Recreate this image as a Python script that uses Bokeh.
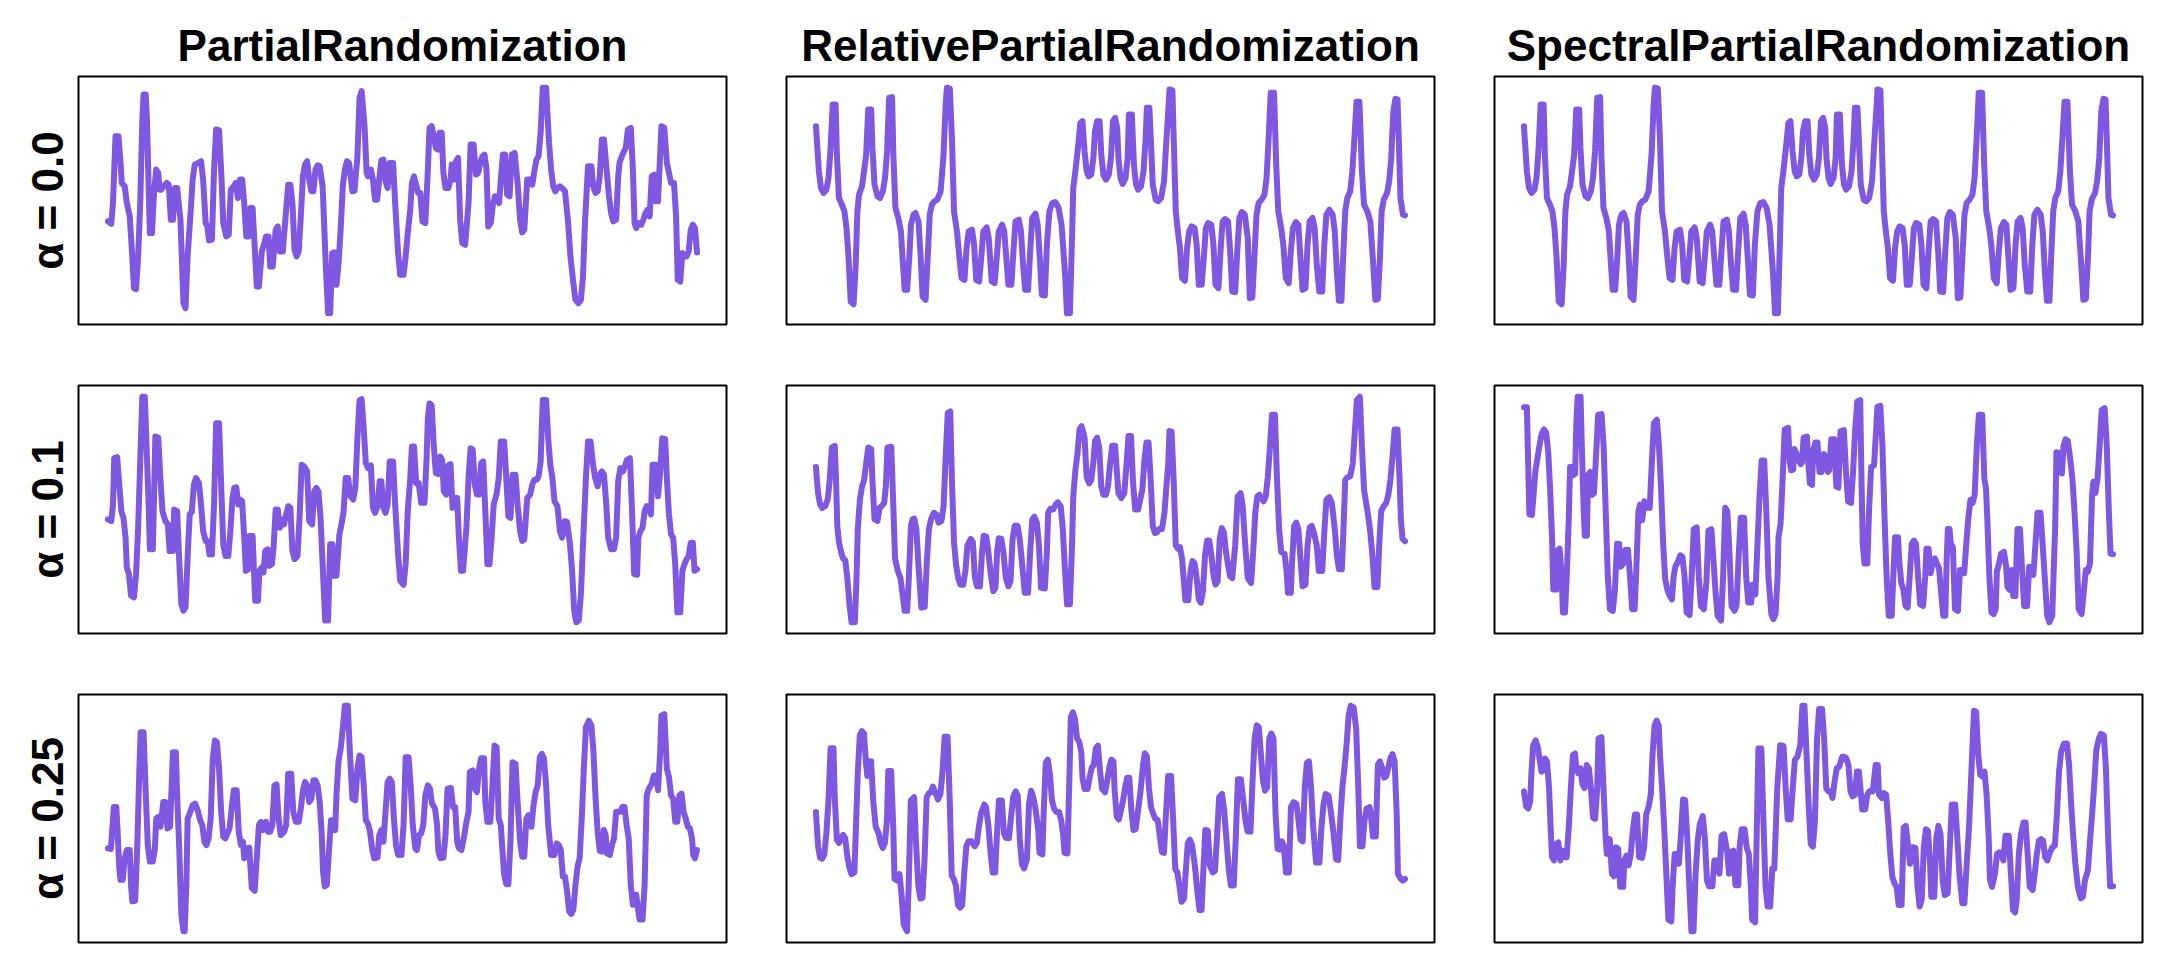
from bokeh.plotting import figure
from bokeh.layouts import column, row
from bokeh.models import Title
from bokeh.embed import file_html
from bokeh.resources import INLINE

methods = ["PartialRandomization", "RelativePartialRandomization", "SpectralPartialRandomization"]
alpha_labels = ["α = 0.0", "α = 0.1", "α = 0.25"]

# (time step, value) pairs
partial_a00 = [(0,345),(8,338),(12,400),(15,500),(18,600),(25,600),(30,520),(33,460),(40,450),(45,400),(52,360),(57,260),(62,145),(67,142),(72,240),(77,400),(82,650),(85,725),(90,725),(93,650),(97,450),(100,310),(105,310),(110,430),(115,500),(120,490),(123,440),(127,440),(133,450),(140,460),(145,455),(150,350),(155,350),(160,445),(165,445),(173,350),(180,100),(185,85),(190,240),(197,370),(202,470),(207,515),(215,520),(222,525),(227,470),(233,340),(237,330),(241,288),(248,290),(253,500),(258,620),(265,618),(271,470),(275,340),(282,300),(288,305),(293,440),(300,450),(305,460),(310,415),(315,470),(320,470),(325,400),(330,300),(335,300),(340,385),(345,385),(355,150),(360,150),(367,255),(372,275),(377,300),(383,300),(387,210),(393,210),(400,320),(405,330),(410,255),(417,255),(425,380),(430,455),(435,455),(440,400),(445,260),(450,240),(455,255),(460,360),(465,480),(470,515),(475,525),(480,470),(485,435),(490,435),(495,500),(500,513),(505,510),(512,450),(520,200),(525,70),(530,70),(535,250),(540,252),(545,155),(550,220),(555,320),(560,450),(565,500),(570,525),(575,520),(583,435),(588,437),(595,540),(600,715),(605,735),(612,630),(617,490),(620,480),(627,500),(632,470),(637,410),(642,410),(647,470),(652,528),(657,530),(662,465),(667,445),(672,520),(680,520),(685,400),(692,250),(697,185),(705,185),(710,240),(715,310),(721,380),(725,460),(730,480),(735,455),(740,430),(745,430),(750,345),(757,340),(763,500),(767,625),(772,630),(777,600),(782,565),(787,560),(791,610),(796,610),(800,490),(805,445),(812,445),(817,470),(820,515),(827,470),(830,525),(835,535),(840,350),(845,280),(852,275),(860,400),(865,575),(872,575),(878,485),(883,490),(888,520),(893,540),(898,545),(903,500),(907,330),(913,340),(918,395),(923,420),(928,420),(933,400),(937,470),(942,545),(947,545),(952,425),(958,420),(963,545),(970,550),(977,460),(983,350),(988,312),(993,320),(1000,470),(1007,470),(1012,455),(1017,495),(1022,530),(1027,540),(1032,610),(1037,745),(1045,745),(1052,580),(1057,500),(1062,450),(1067,435),(1072,445),(1078,450),(1083,445),(1090,435),(1097,350),(1103,240),(1110,160),(1115,110),(1122,100),(1128,110),(1133,180),(1138,350),(1145,510),(1153,510),(1157,450),(1163,430),(1168,435),(1173,480),(1178,590),(1183,590),(1190,490),(1195,420),(1200,370),(1205,345),(1212,350),(1217,480),(1220,520),(1227,545),(1235,565),(1240,620),(1247,625),(1252,500),(1256,340),(1260,325),(1265,340),(1272,335),(1277,350),(1282,370),(1287,380),(1292,360),(1297,480),(1303,485),(1307,405),(1312,405),(1315,490),(1320,630),(1327,625),(1333,520),(1338,490),(1343,460),(1350,460),(1355,360),(1359,170),(1365,165),(1370,250),(1375,240),(1380,240),(1385,255),(1390,320),(1395,335),(1400,325),(1405,252)]

# the unrandomized signal (Relative / Spectral at alpha = 0)
original = [(0,635),(7,500),(12,450),(18,435),(25,445),(30,480),(35,570),(40,700),(47,700),(50,550),(55,420),(62,400),(68,380),(73,330),(78,240),(83,110),(90,102),(95,220),(99,380),(103,430),(110,455),(115,500),(120,550),(125,685),(132,685),(135,570),(140,460),(147,425),(153,420),(160,440),(165,480),(170,560),(175,720),(182,722),(185,550),(190,390),(197,360),(203,320),(207,240),(212,145),(218,145),(223,240),(227,340),(233,370),(238,375),(245,350),(250,250),(255,125),(262,115),(267,240),(272,370),(277,400),(283,410),(290,415),(298,440),(305,550),(310,700),(313,750),(320,748),(325,600),(330,380),(337,320),(343,240),(348,180),(355,175),(360,270),(365,320),(373,325),(378,280),(383,175),(390,170),(395,240),(400,320),(408,332),(413,300),(420,170),(427,165),(432,240),(437,320),(445,340),(450,320),(455,240),(460,160),(467,160),(472,260),(477,350),(485,355),(490,320),(495,220),(500,145),(507,145),(512,260),(517,360),(525,373),(530,340),(535,240),(540,130),(547,128),(552,280),(558,380),(565,405),(572,408),(580,390),(587,340),(595,200),(600,75),(607,75),(612,300),(615,450),(620,500),(627,580),(632,645),(637,650),(642,560),(647,500),(652,485),(658,490),(663,540),(667,620),(672,650),(678,650),(682,550),(687,490),(693,475),(700,490),(705,540),(710,650),(715,660),(720,630),(723,540),(728,480),(733,462),(740,480),(745,540),(748,670),(755,670),(760,520),(765,460),(770,445),(777,455),(783,500),(788,600),(791,690),(797,690),(801,580),(805,460),(812,415),(818,410),(825,420),(832,470),(837,580),(843,700),(845,745),(852,742),(855,600),(860,380),(865,320),(870,270),(875,180),(882,172),(887,270),(892,320),(898,335),(905,330),(910,280),(915,160),(922,160),(927,240),(932,330),(937,345),(945,340),(950,280),(955,160),(962,150),(967,260),(972,350),(978,357),(985,350),(990,260),(995,140),(1002,138),(1007,260),(1012,360),(1018,378),(1025,370),(1032,300),(1037,120),(1043,122),(1047,220),(1053,370),(1058,405),(1065,415),(1072,430),(1077,480),(1082,600),(1087,735),(1095,735),(1100,520),(1105,380),(1112,330),(1117,280),(1123,180),(1130,165),(1135,260),(1140,330),(1147,348),(1153,340),(1158,240),(1163,145),(1170,150),(1175,280),(1180,350),(1187,360),(1192,330),(1197,220),(1203,140),(1210,140),(1215,280),(1220,370),(1227,385),(1235,370),(1240,320),(1245,200),(1250,112),(1256,112),(1260,240),(1265,380),(1270,420),(1277,440),(1282,500),(1287,600),(1292,708),(1299,708),(1305,500),(1310,400),(1318,380),(1325,350),(1332,220),(1337,115),(1343,117),(1348,240),(1352,380),(1357,415),(1365,435),(1370,470),(1375,540),(1380,680),(1385,717),(1390,715),(1393,600),(1397,420),(1403,370),(1408,368)]

partial_a01 = [(0,375),(8,370),(12,420),(15,560),(22,563),(27,480),(32,400),(37,380),(42,320),(45,230),(50,210),(55,145),(62,140),(67,210),(72,350),(77,550),(82,745),(88,745),(92,600),(97,420),(100,285),(107,285),(110,450),(113,625),(120,622),(125,500),(130,400),(137,370),(143,360),(147,280),(155,280),(158,405),(165,400),(170,250),(175,120),(180,100),(185,110),(190,260),(195,390),(200,398),(205,480),(210,500),(217,485),(222,420),(227,340),(233,310),(238,310),(242,270),(248,270),(253,420),(258,665),(265,665),(270,480),(275,300),(280,265),(287,265),(292,340),(297,440),(301,470),(306,472),(311,420),(315,435),(320,430),(325,320),(329,220),(335,225),(338,325),(345,325),(351,130),(358,130),(361,220),(367,230),(371,215),(375,280),(381,285),(385,235),(391,240),(395,290),(400,405),(405,405),(410,350),(415,375),(420,360),(425,390),(430,415),(435,410),(440,280),(445,255),(452,265),(457,380),(462,540),(468,535),(475,520),(480,370),(487,360),(492,460),(497,470),(502,460),(507,380),(512,240),(518,70),(525,70),(530,300),(535,300),(540,205),(545,205),(552,330),(557,360),(562,400),(567,500),(573,500),(578,445),(585,435),(590,470),(595,620),(600,735),(605,738),(610,650),(615,545),(620,530),(627,538),(632,410),(637,395),(643,415),(648,490),(652,490),(657,410),(662,395),(667,420),(672,550),(680,550),(685,420),(692,270),(697,190),(705,178),(710,240),(715,400),(721,500),(725,595),(730,595),(735,485),(741,485),(747,425),(755,425),(760,560),(763,680),(767,725),(772,720),(777,600),(782,515),(787,512),(792,565),(797,555),(801,460),(807,450),(812,538),(817,542),(822,410),(827,440),(833,440),(837,320),(842,220),(847,220),(855,350),(860,500),(865,590),(870,585),(875,480),(880,450),(885,450),(890,545),(895,550),(900,400),(905,240),(910,240),(915,320),(920,420),(927,452),(932,500),(937,610),(945,610),(950,500),(955,385),(960,380),(965,510),(972,510),(977,420),(983,340),(988,310),(993,315),(1000,440),(1007,450),(1012,480),(1017,495),(1023,495),(1027,505),(1032,550),(1037,735),(1045,735),(1050,620),(1055,540),(1060,500),(1065,430),(1072,415),(1078,340),(1083,320),(1090,370),(1095,368),(1102,300),(1107,220),(1112,100),(1117,65),(1123,70),(1128,150),(1133,300),(1140,500),(1145,610),(1151,610),(1157,540),(1162,500),(1168,475),(1173,510),(1178,520),(1183,510),(1188,430),(1193,320),(1200,285),(1207,285),(1212,320),(1217,490),(1222,530),(1228,520),(1233,535),(1238,555),(1245,560),(1250,400),(1255,210),(1262,208),(1265,320),(1270,340),(1275,350),(1280,400),(1285,415),(1291,410),(1295,390),(1299,540),(1307,540),(1312,445),(1317,520),(1322,620),(1329,617),(1333,500),(1338,390),(1343,330),(1348,320),(1353,240),(1358,95),(1365,95),(1370,220),(1375,240),(1380,255),(1385,265),(1390,305),(1395,305),(1399,220),(1405,225)]

relative_a01 = [(0,540),(5,460),(10,425),(15,415),(22,420),(28,440),(33,500),(38,600),(45,605),(48,500),(51,360),(55,310),(60,280),(65,260),(70,255),(75,200),(80,120),(85,65),(93,65),(97,200),(100,350),(105,440),(110,480),(115,500),(120,550),(125,600),(132,595),(135,500),(140,380),(147,375),(152,415),(157,420),(163,430),(167,480),(171,600),(180,602),(185,420),(189,260),(195,225),(202,200),(207,150),(212,100),(218,100),(222,200),(227,360),(231,380),(235,382),(240,350),(245,240),(252,110),(260,112),(265,250),(270,350),(275,380),(282,400),(288,395),(293,370),(300,375),(305,420),(310,570),(315,705),(321,710),(325,500),(330,310),(335,240),(340,200),(345,180),(352,180),(357,220),(362,300),(370,320),(375,310),(380,200),(385,175),(392,175),(397,280),(401,330),(407,328),(412,280),(418,210),(424,160),(429,170),(433,280),(437,322),(443,320),(448,280),(454,200),(460,175),(465,190),(470,320),(475,360),(482,360),(487,320),(493,240),(499,155),(507,155),(512,280),(517,380),(522,388),(528,370),(533,300),(538,170),(547,168),(552,280),(555,400),(560,412),(567,410),(573,425),(578,432),(585,420),(590,350),(595,230),(600,120),(607,120),(612,300),(615,450),(620,530),(625,580),(630,655),(635,665),(642,630),(647,510),(653,490),(658,500),(663,555),(667,620),(672,630),(677,600),(682,480),(687,455),(693,455),(698,480),(703,550),(708,605),(715,605),(719,530),(723,460),(730,445),(737,460),(743,560),(747,635),(753,635),(758,490),(763,410),(770,410),(775,440),(780,470),(785,560),(790,615),(795,615),(800,500),(805,360),(810,338),(815,340),(820,350),(827,350),(833,400),(837,470),(842,550),(845,650),(850,648),(855,500),(860,300),(865,290),(870,295),(875,260),(880,180),(883,132),(890,132),(895,220),(900,252),(905,245),(910,200),(915,135),(920,125),(925,160),(930,270),(935,315),(940,315),(945,270),(950,210),(955,180),(960,190),(965,320),(970,353),(975,340),(980,280),(985,240),(990,205),(995,200),(1002,300),(1008,450),(1015,460),(1020,420),(1025,320),(1032,200),(1040,185),(1045,280),(1050,400),(1055,450),(1060,455),(1065,445),(1070,435),(1075,450),(1080,510),(1085,600),(1090,700),(1097,700),(1102,500),(1107,350),(1112,280),(1120,275),(1125,220),(1128,155),(1135,155),(1138,250),(1143,360),(1148,370),(1153,350),(1158,260),(1163,175),(1170,180),(1175,300),(1180,355),(1185,360),(1190,340),(1197,300),(1202,222),(1210,222),(1215,340),(1220,440),(1227,448),(1233,430),(1240,350),(1245,270),(1250,227),(1257,227),(1260,320),(1265,500),(1270,508),(1277,512),(1283,550),(1288,650),(1293,745),(1300,755),(1305,600),(1310,470),(1315,430),(1320,390),(1325,340),(1330,270),(1335,173),(1342,173),(1347,320),(1351,405),(1357,420),(1363,430),(1368,455),(1373,500),(1378,570),(1383,655),(1390,655),(1395,500),(1398,380),(1402,320),(1408,313)]

spectral_a01 = [(0,718),(7,718),(10,550),(13,390),(19,388),(23,450),(27,520),(32,560),(37,600),(42,635),(48,650),(53,640),(58,580),(63,450),(67,320),(70,160),(77,160),(80,280),(85,285),(90,200),(93,90),(98,90),(102,200),(107,380),(110,535),(115,535),(118,510),(122,515),(125,670),(128,750),(135,750),(138,600),(142,420),(145,325),(150,325),(153,510),(158,520),(162,450),(167,455),(172,570),(177,695),(185,697),(190,600),(195,400),(200,200),(205,100),(212,95),(217,160),(222,300),(227,300),(231,230),(237,240),(242,282),(248,282),(253,200),(258,100),(264,100),(268,220),(273,400),(277,420),(282,372),(287,430),(293,410),(300,410),(305,550),(310,670),(317,680),(322,600),(327,470),(332,300),(337,190),(343,155),(348,140),(353,130),(357,200),(361,230),(367,245),(373,265),(378,260),(383,200),(388,90),(395,82),(400,200),(405,345),(412,350),(417,200),(422,110),(429,100),(435,180),(440,340),(447,345),(452,250),(457,150),(462,80),(470,65),(475,200),(480,410),(485,400),(490,280),(495,110),(502,95),(507,110),(512,260),(517,380),(525,380),(530,200),(535,120),(542,120),(545,175),(552,145),(557,300),(562,450),(567,555),(573,555),(578,400),(583,200),(590,85),(595,70),(600,85),(605,200),(607,320),(612,360),(617,500),(622,650),(630,655),(634,550),(637,525),(642,527),(645,590),(650,575),(655,555),(660,544),(663,548),(667,625),(675,628),(678,550),(682,485),(687,480),(690,585),(695,610),(700,610),(705,520),(710,520),(715,575),(720,565),(725,520),(728,525),(733,620),(740,620),(745,475),(750,472),(755,645),(763,648),(768,520),(773,430),(780,425),(785,520),(790,650),(795,735),(802,740),(805,500),(808,300),(812,240),(819,240),(823,400),(828,535),(835,540),(840,650),(843,720),(850,722),(855,600),(860,380),(865,200),(870,80),(877,80),(881,200),(885,320),(892,320),(895,250),(900,180),(905,160),(910,110),(915,105),(920,200),(925,300),(930,310),(935,300),(940,200),(945,115),(952,110),(957,200),(960,285),(965,285),(970,210),(975,245),(980,255),(985,240),(990,225),(995,150),(1000,80),(1005,80),(1008,240),(1011,345),(1015,345),(1018,300),(1023,290),(1028,100),(1035,95),(1040,220),(1045,220),(1050,210),(1055,300),(1060,380),(1065,435),(1070,425),(1075,450),(1080,600),(1085,695),(1093,695),(1098,500),(1102,470),(1105,380),(1110,200),(1115,90),(1120,85),(1125,100),(1128,215),(1133,240),(1138,270),(1145,275),(1150,230),(1153,170),(1158,160),(1163,220),(1167,140),(1172,140),(1177,345),(1183,345),(1188,220),(1193,110),(1200,110),(1205,230),(1210,225),(1215,205),(1220,300),(1225,395),(1232,395),(1237,300),(1242,200),(1248,80),(1253,60),(1260,80),(1263,200),(1267,350),(1270,580),(1277,578),(1283,515),(1287,600),(1292,620),(1297,615),(1303,560),(1308,500),(1313,400),(1318,280),(1323,100),(1330,85),(1335,150),(1340,220),(1345,215),(1350,240),(1355,450),(1358,490),(1363,455),(1368,500),(1373,600),(1378,710),(1385,715),(1390,600),(1395,400),(1399,270),(1405,268)]

partial_a025 = [(0,310),(7,308),(11,380),(14,435),(20,435),(23,360),(27,250),(30,215),(35,215),(40,280),(45,305),(52,305),(55,200),(58,150),(65,152),(70,320),(75,550),(78,660),(85,660),(90,480),(95,320),(100,270),(107,270),(112,310),(115,400),(120,405),(125,375),(128,405),(132,450),(137,450),(142,370),(148,375),(152,500),(155,600),(162,600),(165,470),(170,310),(175,110),(180,60),(183,60),(187,200),(190,400),(195,415),(202,440),(208,445),(215,420),(220,395),(225,380),(230,330),(235,320),(240,340),(245,400),(250,580),(255,635),(260,630),(265,550),(270,420),(275,345),(280,340),(285,355),(290,370),(295,430),(300,485),(307,485),(312,360),(317,320),(322,330),(325,280),(330,310),(337,312),(343,190),(350,182),(355,280),(360,380),(365,390),(370,365),(377,390),(382,360),(387,360),(392,380),(397,500),(402,503),(407,400),(412,350),(420,360),(425,380),(430,535),(437,535),(442,420),(448,390),(455,390),(460,430),(465,485),(470,510),(475,500),(480,450),(485,460),(490,515),(495,515),(500,500),(505,450),(510,350),(513,240),(517,195),(522,200),(527,300),(532,395),(537,395),(542,365),(545,470),(550,575),(555,610),(560,670),(565,740),(572,740),(577,600),(583,460),(590,455),(595,550),(600,590),(605,585),(610,500),(615,395),(620,385),(625,360),(630,310),(635,280),(643,282),(647,350),(652,365),(657,330),(662,420),(667,510),(672,520),(677,510),(682,400),(687,320),(692,290),(700,290),(705,380),(710,585),(717,585),(722,500),(727,380),(733,310),(737,305),(742,350),(747,355),(752,380),(757,470),(763,500),(768,490),(773,445),(780,430),(785,380),(788,300),(793,280),(800,282),(805,350),(810,490),(818,492),(823,435),(828,435),(833,330),(837,310),(843,305),(850,350),(855,390),(860,420),(863,540),(870,545),(875,490),(880,480),(885,550),(890,582),(897,582),(900,450),(905,390),(912,390),(917,500),(922,620),(927,615),(932,400),(937,380),(940,320),(945,230),(950,202),(955,202),(960,330),(965,570),(972,565),(977,450),(983,330),(988,285),(993,285),(998,400),(1003,410),(1010,375),(1015,440),(1020,480),(1025,500),(1030,585),(1035,595),(1040,580),(1045,500),(1050,380),(1057,290),(1065,290),(1070,325),(1075,320),(1080,305),(1085,225),(1090,225),(1095,180),(1100,120),(1105,112),(1110,125),(1115,200),(1120,255),(1125,280),(1130,400),(1135,550),(1140,675),(1147,695),(1153,680),(1158,600),(1163,460),(1168,360),(1173,302),(1178,300),(1183,365),(1187,350),(1190,295),(1197,290),(1202,320),(1207,340),(1212,420),(1217,420),(1222,420),(1227,435),(1232,435),(1237,380),(1242,340),(1247,200),(1252,140),(1255,160),(1260,170),(1265,120),(1268,95),(1275,95),(1280,200),(1285,470),(1290,490),(1297,505),(1302,530),(1307,530),(1312,485),(1317,600),(1320,710),(1327,715),(1333,550),(1338,525),(1343,470),(1348,460),(1353,390),(1358,390),(1363,470),(1368,475),(1373,420),(1378,400),(1383,375),(1388,370),(1393,340),(1396,290),(1400,280),(1405,305)]

relative_a025 = [(0,425),(5,320),(10,285),(15,282),(20,295),(25,360),(30,460),(35,620),(42,620),(45,470),(50,340),(55,330),(60,345),(65,355),(70,345),(75,290),(80,255),(85,235),(92,240),(95,350),(100,540),(105,660),(110,672),(115,665),(120,570),(123,535),(127,580),(132,580),(137,460),(143,380),(150,360),(155,330),(160,315),(165,330),(170,400),(173,550),(180,550),(185,380),(188,220),(195,215),(200,235),(205,170),(210,80),(218,60),(222,200),(227,460),(235,470),(240,320),(245,200),(250,160),(255,162),(260,280),(265,470),(270,482),(275,485),(280,503),(287,480),(292,463),(298,480),(303,550),(308,655),(315,655),(320,470),(325,230),(330,220),(335,200),(340,140),(345,132),(350,140),(355,240),(360,320),(365,335),(372,335),(380,320),(385,330),(390,380),(395,420),(403,448),(407,440),(413,380),(418,300),(423,240),(429,240),(433,350),(438,460),(445,460),(450,360),(455,345),(462,345),(467,410),(472,470),(478,488),(483,475),(488,340),(493,265),(498,252),(505,280),(510,450),(515,490),(520,470),(525,440),(532,370),(535,300),(542,295),(545,420),(550,575),(555,585),(560,540),(565,460),(570,435),(575,425),(582,425),(587,400),(592,350),(595,300),(602,298),(607,550),(610,715),(615,730),(620,710),(625,650),(630,640),(635,610),(638,530),(643,495),(650,495),(655,530),(660,560),(665,570),(670,620),(675,628),(680,550),(685,495),(692,485),(697,520),(702,560),(707,585),(712,580),(715,490),(720,410),(725,402),(730,430),(735,460),(740,500),(745,530),(750,530),(755,430),(760,370),(765,372),(770,420),(777,490),(783,570),(787,605),(792,595),(797,500),(802,440),(807,420),(812,405),(818,400),(823,350),(828,302),(833,300),(837,400),(843,535),(850,535),(855,400),(860,250),(865,240),(870,200),(875,150),(881,160),(885,240),(890,330),(895,340),(900,325),(907,260),(913,180),(918,125),(923,125),(927,240),(932,370),(938,368),(943,260),(950,240),(955,245),(960,350),(965,470),(972,480),(977,430),(982,350),(988,250),(993,200),(1000,200),(1005,350),(1010,525),(1017,525),(1022,470),(1028,400),(1033,365),(1040,365),(1045,520),(1050,650),(1055,690),(1060,685),(1065,600),(1070,520),(1075,490),(1080,500),(1085,650),(1090,665),(1095,650),(1100,420),(1105,312),(1110,310),(1115,335),(1120,320),(1125,240),(1132,240),(1137,440),(1143,455),(1150,450),(1155,400),(1160,340),(1165,335),(1170,500),(1175,575),(1180,580),(1185,500),(1190,380),(1197,270),(1205,270),(1210,380),(1215,450),(1220,480),(1227,475),(1233,420),(1237,380),(1245,280),(1250,278),(1255,400),(1260,500),(1265,560),(1270,630),(1275,720),(1280,750),(1287,745),(1293,680),(1298,500),(1302,320),(1308,320),(1313,400),(1318,435),(1325,440),(1328,420),(1333,350),(1340,350),(1345,570),(1350,580),(1355,560),(1360,530),(1365,535),(1370,560),(1375,590),(1380,602),(1385,580),(1390,420),(1393,235),(1400,220),(1405,215),(1410,220)]

spectral_a025 = [(0,490),(5,445),(10,438),(15,460),(18,550),(22,630),(28,645),(33,625),(37,590),(42,550),(47,555),(50,590),(55,580),(60,500),(63,400),(67,290),(72,280),(77,330),(82,335),(87,280),(92,310),(97,290),(102,290),(107,380),(112,500),(117,600),(122,605),(125,560),(130,545),(135,560),(140,510),(145,500),(150,570),(155,560),(160,500),(165,410),(170,407),(175,500),(178,650),(185,655),(190,500),(195,350),(198,300),(205,345),(210,240),(215,232),(220,320),(225,315),(230,200),(237,200),(240,280),(245,295),(250,265),(255,300),(260,370),(265,420),(270,420),(275,290),(282,288),(287,320),(292,420),(298,445),(303,480),(307,600),(312,690),(317,705),(322,690),(325,600),(330,500),(335,380),(340,240),(345,100),(352,95),(355,200),(360,300),(365,300),(370,270),(375,360),(380,465),(385,463),(390,350),(395,200),(400,65),(405,65),(410,240),(415,340),(420,390),(427,415),(432,350),(437,220),(442,202),(450,202),(455,280),(462,280),(467,240),(472,355),(478,360),(485,310),(490,240),(495,305),(500,310),(505,205),(512,205),(515,320),(520,375),(527,375),(532,320),(537,300),(542,200),(545,100),(552,92),(555,300),(560,620),(567,620),(572,400),(577,200),(582,140),(588,140),(593,255),(598,255),(605,500),(612,630),(620,628),(625,500),(630,405),(637,405),(642,500),(647,585),(653,595),(660,630),(665,750),(670,750),(675,600),(680,450),(685,330),(690,322),(695,400),(700,650),(705,740),(712,740),(717,650),(722,500),(727,490),(732,490),(737,470),(742,520),(747,560),(753,565),(760,595),(765,595),(770,590),(775,570),(780,490),(785,475),(791,480),(795,550),(800,550),(805,480),(808,435),(815,435),(820,480),(825,490),(833,490),(840,570),(845,570),(848,480),(855,470),(860,485),(865,480),(870,400),(875,300),(880,230),(885,210),(890,200),(895,145),(902,145),(907,380),(912,385),(917,330),(922,270),(928,320),(935,318),(940,200),(945,140),(950,160),(955,320),(960,375),(965,370),(970,270),(973,170),(980,170),(985,350),(990,385),(995,360),(1000,220),(1005,175),(1012,180),(1017,320),(1022,450),(1030,450),(1035,350),(1040,240),(1047,150),(1052,150),(1057,260),(1063,380),(1067,500),(1072,650),(1075,735),(1080,732),(1085,600),(1090,540),(1095,535),(1100,550),(1105,480),(1110,350),(1113,220),(1118,200),(1125,240),(1130,300),(1135,305),(1140,300),(1145,280),(1150,355),(1158,355),(1163,240),(1168,130),(1173,122),(1177,160),(1182,300),(1187,360),(1193,395),(1198,395),(1203,300),(1208,200),(1215,190),(1220,240),(1225,300),(1230,340),(1235,345),(1240,340),(1245,290),(1250,280),(1255,300),(1262,320),(1268,325),(1273,420),(1278,550),(1283,610),(1290,635),(1297,635),(1302,570),(1307,450),(1312,350),(1317,270),(1323,200),(1330,165),(1335,170),(1340,220),(1347,250),(1352,340),(1357,420),(1363,530),(1367,615),(1373,650),(1378,665),(1385,660),(1390,560),(1395,360),(1400,202),(1407,202)]

grid_series = [
    [partial_a00, original, original],
    [partial_a01, relative_a01, spectral_a01],
    [partial_a025, relative_a025, spectral_a025],
]

LINE_COLOR = "#7f58e2"
FONT = "Liberation Sans"
FRAME_W, FRAME_H = 648, 248
LEFT = [78, 30, 30]
RIGHT = [30, 30, 10]
TOP = [76, 31, 31]
BOTTOM = [30, 30, 8]


def make_panel(series, r, c):
    lb, rb, tb, bb = LEFT[c], RIGHT[c], TOP[r], BOTTOM[r]
    p = figure(width=lb + FRAME_W + rb, height=tb + FRAME_H + bb,
               output_backend="svg", toolbar_location=None, title=None,
               min_border_left=lb, min_border_right=rb,
               min_border_top=tb, min_border_bottom=bb)
    xs = [pt[0] for pt in series]
    ys = [pt[1] for pt in series]
    p.line(xs, ys, line_color=LINE_COLOR, line_width=6,
           line_join="round", line_cap="round")
    p.xaxis.visible = False
    p.yaxis.visible = False
    p.xgrid.visible = False
    p.ygrid.visible = False
    p.outline_line_color = "black"
    p.outline_line_width = 2
    p.outline_line_alpha = 1.0
    p.background_fill_color = "white"
    p.border_fill_color = "white"
    if r == 0:
        p.add_layout(Title(text=methods[c], align="center", text_font=FONT,
                           text_font_size="44px", text_font_style="bold",
                           text_color="black", standoff=13), "above")
    if c == 0:
        p.add_layout(Title(text=alpha_labels[r], align="center", text_font=FONT,
                           text_font_size="44px", text_font_style="bold",
                           text_color="black", standoff=13), "left")
    return p


rows = []
for r in range(3):
    rows.append(row(*[make_panel(grid_series[r][c], r, c) for c in range(3)]))
layout = column(*rows)

open("out.html", "w").write(file_html(layout, INLINE))
